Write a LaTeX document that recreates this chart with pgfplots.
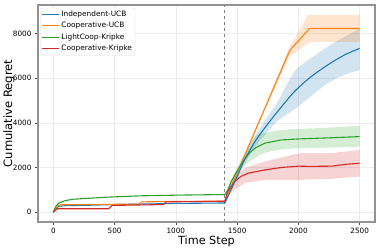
\documentclass[border=0pt]{standalone}
\usepackage{fontspec}
\setmainfont{DejaVu Sans}
\usepackage{pgfplots}
\usepgfplotslibrary{fillbetween}
\pgfplotsset{compat=1.18}
\definecolor{tblue}{HTML}{1F77B4}
\definecolor{torange}{HTML}{FF7F0E}
\definecolor{tgreen}{HTML}{2CA02C}
\definecolor{tred}{HTML}{D62728}
\begin{document}
\begin{tikzpicture}
\begin{axis}[
  width=337bp, height=217bp, scale only axis,
  xmin=-125, xmax=2625, ymin=-442, ymax=9282,
  xtick={0,500,1000,1500,2000,2500},
  ytick={0,2000,4000,6000,8000},
  /pgf/number format/1000 sep={},
  /pgf/number format/assume math mode=true,
  tick label style={font=\fontsize{7.3}{8}\selectfont},
  tick align=outside, tick pos=left,
  major tick length=3bp,
  tick style={gray!60!black, line width=0.6pt},
  xlabel={Time Step}, ylabel={Cumulative Regret},
  xlabel style={font=\fontsize{11.3}{12}\selectfont, at={(axis description cs:0.5,-0.0876)}, anchor=center},
  ylabel style={font=\fontsize{11.6}{13}\selectfont, at={(axis description cs:-0.086,0.5)}, anchor=center},
  grid=major, major grid style={gray!15, line width=0.6pt},
  axis line style={gray!85, line width=1.3pt},
  legend style={at={(0.008,0.987)}, anchor=north west, font=\fontsize{7.4}{9.5}\selectfont,
    draw=gray!30, rounded corners=2pt, inner sep=1pt, row sep=0.3pt},
  legend cell align=left,
  legend image code/.code={\draw[#1] (0cm,0cm) -- (0.58cm,0cm);},
  every axis plot/.append style={line width=1.1pt},
]
% bands
\addplot[draw=none, smooth, name path=bu, forget plot] coordinates {(1400,410)(1500,1700)(1560,2500)(1650,3450)(1750,4300)(1832,4950)(1967,6300)(2103,6900)(2238,7409)(2374,7850)(2500,8232)};
\addplot[draw=none, smooth, name path=bl, forget plot] coordinates {(1400,410)(1500,1500)(1560,2180)(1650,2950)(1750,3600)(1832,4100)(1967,4600)(2103,5200)(2238,5771)(2374,6150)(2500,6367)};
\addplot[tblue, fill opacity=0.2, draw=none, forget plot] fill between[of=bu and bl];
\addplot[draw=none, name path=ou, forget plot] coordinates {(1400,490)(1718,4650)(1930,7450)(1967,7750)(2075,8828)(2500,8828)};
\addplot[draw=none, name path=ol, forget plot] coordinates {(1400,490)(1718,4500)(1930,7030)(1967,7120)(2089,7633)(2500,7633)};
\addplot[torange, fill opacity=0.2, draw=none, forget plot] fill between[of=ou and ol];
\addplot[draw=none, smooth, name path=gu, forget plot] coordinates {(1400,790)(1500,2000)(1550,2500)(1650,3400)(1725,3550)(1860,3680)(2008,3727)(2250,3790)(2500,3861)};
\addplot[draw=none, smooth, name path=gl, forget plot] coordinates {(1400,790)(1500,1700)(1550,2050)(1650,2450)(1725,2650)(1860,2800)(2008,2863)(2250,2890)(2500,2935)};
\addplot[tgreen, fill opacity=0.2, draw=none, forget plot] fill between[of=gu and gl];
\addplot[draw=none, name path=ru, forget plot] coordinates {(1400,490)(1450,1450)(1560,1970)(1724,2264)(2008,2640)(2266,2640)(2500,2787)};
\addplot[draw=none, name path=rl, forget plot] coordinates {(1400,490)(1450,900)(1560,1300)(1724,1445)(2008,1445)(2266,1490)(2500,1593)};
\addplot[tred, fill opacity=0.2, draw=none, forget plot] fill between[of=ru and rl];
% dashed line
\addplot[gray, dashed, line width=0.8pt, forget plot] coordinates {(1400,-442)(1400,9282)};
% means
\addplot[tblue] coordinates {(0,0)(20,150)(40,260)(100,290)(300,310)(500,340)(700,360)(1000,390)(1400,410)};
\addlegendentry{Independent-UCB}
\addplot[torange] coordinates {(0,0)(20,150)(40,300)(60,330)(700,360)(720,460)(1000,480)(1400,490)(1930,7250)(2090,8230)(2500,8230)};
\addlegendentry{Cooperative-UCB}
\addplot[tgreen] coordinates {(0,0)(20,250)(43,400)(100,520)(165,580)(437,670)(707,730)(1000,760)(1400,790)(1425,1000)(1450,1350)(1500,1850)(1547,2260)(1600,2650)(1650,2880)(1725,3090)(1860,3235)(2000,3280)(2250,3330)(2500,3385)};
\addlegendentry{LightCoop-Kripke}
\addplot[tred] coordinates {(0,0)(30,150)(450,150)(480,300)(900,340)(920,460)(1400,490)(1420,900)(1450,1150)(1480,1370)(1530,1600)(1590,1745)(1725,1890)(1860,2000)(2000,2060)(2100,2050)(2270,2060)(2400,2150)(2500,2190)};
\addlegendentry{Cooperative-Kripke}
\addplot[tblue, smooth, forget plot] coordinates {(1400,410)(1500,1600)(1560,2340)(1650,3200)(1750,3950)(1832,4520)(1967,5400)(2103,6067)(2238,6590)(2374,7038)(2500,7338)};
\end{axis}
\pgfresetboundingbox
\path ([xshift=-38bp,yshift=-27bp]current axis.south west) rectangle ([xshift=6bp,yshift=5bp]current axis.north east);
\end{tikzpicture}
\end{document}
